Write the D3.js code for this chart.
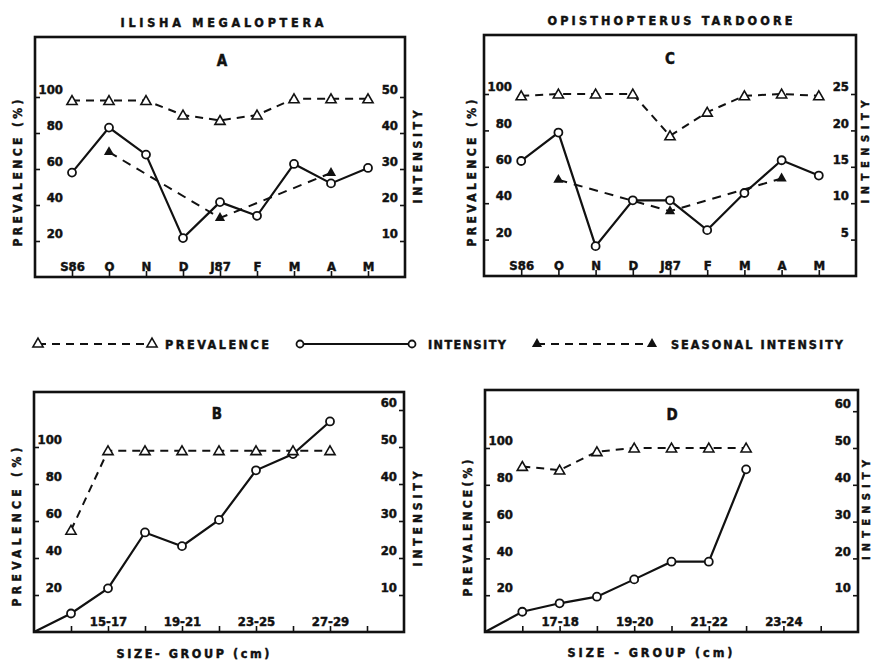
<!DOCTYPE html>
<html>
<head>
<meta charset="utf-8">
<script src="https://cdn.jsdelivr.net/npm/d3@7"></script>
<style>
  body { margin: 0; background: #fff; }
  text { font-family: "DejaVu Sans Condensed", "DejaVu Sans", sans-serif; font-weight: bold; fill: #111; stroke: #111; stroke-width: 0.45px; }
</style>
</head>
<body>
<svg id="fig" width="874" height="663"></svg>
<script>
// months Sept 1986 - May 1987
const monthLabels = ['S86', 'O', 'N', 'D', 'J87', 'F', 'M', 'A', 'M'];
const seasonIdx = [1, 4, 7];

// A : Ilisha megaloptera, monthly
const ilishaPrevalence = [98, 98, 98, 90, 87, 90, 99, 99, 99];
const ilishaIntensity = [29, 41.5, 34, 10.8, 20.8, 17, 31.4, 26, 30.3];
const ilishaSeasonal = [34.7, 16.4, 28.9];

// C : Opisthopterus tardoore, monthly
const opisPrevalence = [99, 100, 100, 100, 77, 90, 99, 100, 99];
const opisIntensity = [15.8, 19.7, 4.1, 10.4, 10.4, 6.3, 11.4, 15.9, 13.8];
const opisSeasonal = [13.2, 8.9, 13.4];

// B : Ilisha megaloptera, by size group (index 0 = origin)
const ilishaSizeLabels = ['15-17', '19-21', '23-25', '27-29'];
const ilishaSizePrevalence = [55, 98, 98, 98, 98, 98, 98, 98];   // idx 1..8
const ilishaSizeIntensity = [0, 5, 11.8, 26.9, 23.2, 30.3, 43.7, 48.1, 56.9]; // idx 0..8

// D : Opisthopterus tardoore, by size group
const opisSizeLabels = ['17-18', '19-20', '21-22', '23-24'];
const opisSizePrevalence = [90, 88, 98, 100, 100, 100, 100];      // idx 1..7
const opisSizeIntensity = [0, 5.5, 7.8, 9.6, 14.3, 19.1, 19.1, 44.2]; // idx 0..7

const sizeLabelIdx = [2, 4, 6, 8];
const prevTicks = [20, 40, 60, 80, 100];

const svg = d3.select('#fig');

const openTri = d3.symbol().type(d3.symbolTriangle).size(45);

function label(txt, x, y, size, len, rotate) {
  const t = svg.append('text')
    .attr('x', x).attr('y', y)
    .attr('text-anchor', 'middle')
    .attr('dominant-baseline', 'central')
    .style('font-size', size + 'px')
    .text(txt);
  if (len) t.attr('textLength', len).attr('lengthAdjust', 'spacing');
  if (rotate) t.attr('transform', 'rotate(-90,' + x + ',' + y + ')');
  return t;
}

function panel(o) {
  const g = svg.append('g').attr('transform', 'translate(' + o.left + ',' + o.top + ')');
  const w = o.width, h = o.height;

  const x = d3.scaleLinear().domain(o.xDomain).range([0, w]);
  const yP = d3.scaleLinear().domain([0, 100]).range([h, o.y100]);
  const yI = d3.scaleLinear().domain([0, o.intAt100]).range([h, o.y100]);

  // left axis: labels inside frame
  const left = g.append('g').call(d3.axisRight(yP).tickValues(prevTicks).tickSize(5));
  left.select('.domain').remove();
  left.selectAll('line').attr('stroke', '#111').attr('stroke-width', 1.6);
  left.selectAll('text').attr('x', 28).attr('dy', '-0.25em').attr('text-anchor', 'end')
    .style('font-size', '13px').style('font-family', null).attr('fill', null);

  // right axis
  const right = g.append('g').attr('transform', 'translate(' + w + ',0)')
    .call(d3.axisLeft(yI).tickValues(o.intTicks).tickSize(5));
  right.select('.domain').remove();
  right.selectAll('line').attr('stroke', '#111').attr('stroke-width', 1.6);
  right.selectAll('text').attr('x', -7).attr('dy', '-0.25em').attr('text-anchor', 'end')
    .style('font-size', '13px').style('font-family', null).attr('fill', null);

  // bottom ticks + labels
  const bt = g.append('g').attr('transform', 'translate(0,' + h + ')')
    .call(d3.axisTop(x).tickValues(o.tickIdx).tickSize(6).tickFormat(''));
  bt.select('.domain').remove();
  bt.selectAll('line').attr('stroke', '#111').attr('stroke-width', 1.6);

  const bl = g.append('g').attr('transform', 'translate(0,' + h + ')')
    .call(d3.axisTop(x).tickValues(o.labelIdx).tickSize(0)
      .tickFormat((d, i) => o.xLabels[i]));
  bl.select('.domain').remove();
  bl.selectAll('text').attr('y', -6).attr('dy', 0)
    .style('font-size', '13px').style('font-family', null).attr('fill', null);

  // frame
  g.append('rect').attr('width', w).attr('height', h)
    .attr('fill', 'none').attr('stroke', '#111').attr('stroke-width', 2.6);

  const line = d3.line().x(d => x(d.i)).y(d => d.y);

  // prevalence: dashed, open triangles
  const prev = o.prev.map((v, k) => ({ i: k + o.prevStart, y: yP(v) }));
  g.append('path').datum(prev).attr('d', line)
    .attr('fill', 'none').attr('stroke', '#111').attr('stroke-width', 2)
    .attr('stroke-dasharray', '8,6');

  // seasonal intensity: dashed, filled triangles
  if (o.seasonal) {
    const sea = o.seasonal.map((v, k) => ({ i: seasonIdx[k], y: yI(v) }));
    g.append('path').datum(sea).attr('d', line)
      .attr('fill', 'none').attr('stroke', '#111').attr('stroke-width', 2)
      .attr('stroke-dasharray', '9,7');
    g.selectAll('.sea').data(sea).enter().append('path')
      .attr('transform', d => 'translate(' + x(d.i) + ',' + d.y + ')')
      .attr('d', openTri).attr('fill', '#111');
  }

  // intensity: solid, open circles (no marker at the origin of the size panels)
  const int = o.int.map((v, k) => ({ i: k + o.intStart, y: yI(v) }));
  g.append('path').datum(int).attr('d', line)
    .attr('fill', 'none').attr('stroke', '#111').attr('stroke-width', 2.2);
  g.selectAll('.int').data(o.origin ? int.slice(1) : int).enter().append('circle')
    .attr('cx', d => x(d.i)).attr('cy', d => d.y).attr('r', 4)
    .attr('fill', '#fff').attr('stroke', '#111').attr('stroke-width', 1.8);

  g.selectAll('.prev').data(prev).enter().append('path')
    .attr('transform', d => 'translate(' + x(d.i) + ',' + (d.y + 1) + ')')
    .attr('d', openTri).attr('fill', '#fff').attr('stroke', '#111').attr('stroke-width', 1.6);
}

panel({ left: 35, top: 37, width: 370, height: 240, xDomain: [-1, 9], y100: 60, intAt100: 50,
  intTicks: [10, 20, 30, 40, 50], tickIdx: d3.range(9), labelIdx: d3.range(9), xLabels: monthLabels,
  prev: ilishaPrevalence, prevStart: 0, int: ilishaIntensity, intStart: 0, seasonal: ilishaSeasonal });

panel({ left: 484, top: 35, width: 372, height: 241, xDomain: [-1, 9], y100: 59, intAt100: 25,
  intTicks: [5, 10, 15, 20, 25], tickIdx: d3.range(9), labelIdx: d3.range(9), xLabels: monthLabels,
  prev: opisPrevalence, prevStart: 0, int: opisIntensity, intStart: 0, seasonal: opisSeasonal });

panel({ left: 34, top: 392, width: 370, height: 240, xDomain: [0, 10], y100: 55, intAt100: 50,
  intTicks: [10, 20, 30, 40, 50, 60], tickIdx: d3.range(1, 10), labelIdx: sizeLabelIdx, xLabels: ilishaSizeLabels,
  prev: ilishaSizePrevalence, prevStart: 1, int: ilishaSizeIntensity, intStart: 0, origin: true });

panel({ left: 485, top: 390, width: 373, height: 242, xDomain: [0, 10], y100: 58, intAt100: 50,
  intTicks: [10, 20, 30, 40, 50, 60], tickIdx: d3.range(1, 10), labelIdx: sizeLabelIdx, xLabels: opisSizeLabels,
  prev: opisSizePrevalence, prevStart: 1, int: opisSizeIntensity, intStart: 0, origin: true });

// titles
label('ILISHA MEGALOPTERA', 222, 22, 12.5, 203);
label('OPISTHOPTERUS   TARDOORE', 670, 20, 12.5, 245);
label('A', 222, 61, 15);
label('C', 670, 59, 15);
label('B', 217, 414, 15);
label('D', 672, 415, 15);

// axis titles
label('PREVALENCE  (%)', 18, 173, 12, 147, true);
label('INTENSITY', 418, 157, 12, 93, true);
label('PREVALENCE (%)', 472, 173, 12, 147, true);
label('INTENSITY', 865, 152, 11, 103, true);
label('PREVALENCE (%)', 17, 527, 12, 159, true);
label('INTENSITY', 418, 519, 12, 95, true);
label('PREVALENCE(%)', 468, 528, 12, 137, true);
label('INTENSITY', 866, 510, 11, 100, true);
label('SIZE- GROUP (cm)', 193, 653, 12.5, 153);
label('SIZE - GROUP (cm)', 650, 652, 12.5, 165);

// legend
const ly = 344;
const leg = svg.append('g');
leg.append('line').attr('x1', 38).attr('x2', 152).attr('y1', ly).attr('y2', ly)
  .attr('stroke', '#111').attr('stroke-width', 2).attr('stroke-dasharray', '8,6');
leg.selectAll('.lt').data([38, 152]).enter().append('path')
  .attr('transform', d => 'translate(' + d + ',' + ly + ')')
  .attr('d', openTri).attr('fill', '#fff').attr('stroke', '#111').attr('stroke-width', 1.6);
label('PREVALENCE', 217, ly, 12.5, 104);

leg.append('line').attr('x1', 300).attr('x2', 412).attr('y1', ly).attr('y2', ly)
  .attr('stroke', '#111').attr('stroke-width', 2.2);
leg.selectAll('.lc').data([300, 412]).enter().append('circle')
  .attr('cx', d => d).attr('cy', ly).attr('r', 3.5)
  .attr('fill', '#fff').attr('stroke', '#111').attr('stroke-width', 1.8);
label('INTENSITY', 467, ly, 12.5, 78);

leg.append('line').attr('x1', 537).attr('x2', 652).attr('y1', ly).attr('y2', ly)
  .attr('stroke', '#111').attr('stroke-width', 2).attr('stroke-dasharray', '8,6');
leg.selectAll('.ls').data([537, 652]).enter().append('path')
  .attr('transform', d => 'translate(' + d + ',' + ly + ')')
  .attr('d', openTri).attr('fill', '#111');
label('SEASONAL INTENSITY', 757, ly, 12.5, 172);
</script>
</body>
</html>
